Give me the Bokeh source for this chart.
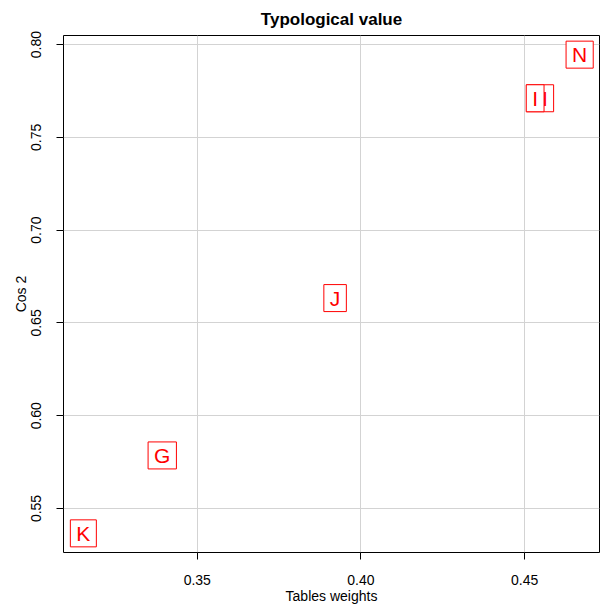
from bokeh.plotting import figure
from bokeh.models import Range1d, FixedTicker, ColumnDataSource
from bokeh.core.properties import value
from bokeh.embed import file_html
from bokeh.resources import INLINE

# Table weights vs. squared cosines for each group
labels = ["G", "H", "I", "J", "K", "N"]
weights = [0.3393, 0.4547, 0.4532, 0.3921, 0.3152, 0.4668]
cos2 = [0.5786, 0.7711, 0.7711, 0.6634, 0.5366, 0.7946]

x_ticks = [0.35, 0.40, 0.45]
x_tick_labels = ["0.35", "0.40", "0.45"]
y_ticks = [0.55, 0.60, 0.65, 0.70, 0.75, 0.80]
y_tick_labels = ["0.55", "0.60", "0.65", "0.70", "0.75", "0.80"]

FONT = "Liberation Sans"


def padded(vals, frac=0.04):
    lo, hi = min(vals), max(vals)
    d = (hi - lo) * frac
    return lo - d, hi + d


p = figure(
    width=601, height=606,
    x_range=Range1d(*padded(weights)),
    y_range=Range1d(*padded(cos2)),
    output_backend="svg", toolbar_location=None,
    min_border_left=63, min_border_right=2,
    min_border_top=33, min_border_bottom=53,
    title="Typological value",
)

p.title.text_font = FONT
p.title.text_font_size = "17px"
p.title.text_font_style = "bold"
p.title.align = "center"
p.title.text_color = "black"
p.title.standoff = 14

p.outline_line_color = "black"
p.outline_line_width = 1
p.background_fill_color = "white"
p.border_fill_color = "white"

p.xaxis.axis_label = "Tables weights"
p.yaxis.axis_label = "Cos 2"
p.xaxis.ticker = FixedTicker(ticks=x_ticks)
p.yaxis.ticker = FixedTicker(ticks=y_ticks)
p.xaxis.major_label_overrides = dict(zip(x_ticks, x_tick_labels))
p.yaxis.major_label_overrides = dict(zip(y_ticks, y_tick_labels))
p.yaxis.major_label_orientation = "vertical"

for ax in (p.xaxis, p.yaxis):
    ax.axis_line_color = None
    ax.major_tick_in = 0
    ax.major_tick_out = 7
    ax.major_tick_line_color = "black"
    ax.minor_tick_line_color = None
    ax.major_label_text_font = FONT
    ax.major_label_text_font_size = "14px"
    ax.major_label_text_color = "black"
    ax.axis_label_text_font = FONT
    ax.axis_label_text_font_size = "14px"
    ax.axis_label_text_font_style = "normal"
    ax.axis_label_text_color = "black"
    ax.major_label_standoff = 15
    ax.axis_label_standoff = 0

p.grid.grid_line_color = "#D3D3D3"
p.grid.grid_line_width = 1

# one renderer per label, so each boxed label covers those drawn before it
for i in range(len(labels)):
    src = ColumnDataSource(dict(x=[weights[i]], y=[cos2[i]], label=[labels[i]]))
    p.text(
        x="x", y="y", text="label", source=src,
        text_font=value(FONT), text_font_size="21px",
        text_color="red", text_align="center", text_baseline="middle",
        background_fill_color="white",
        border_line_color="red", border_line_width=1,
        padding=(6, 2),
    )

open("out.html", "w").write(file_html(p, INLINE))
